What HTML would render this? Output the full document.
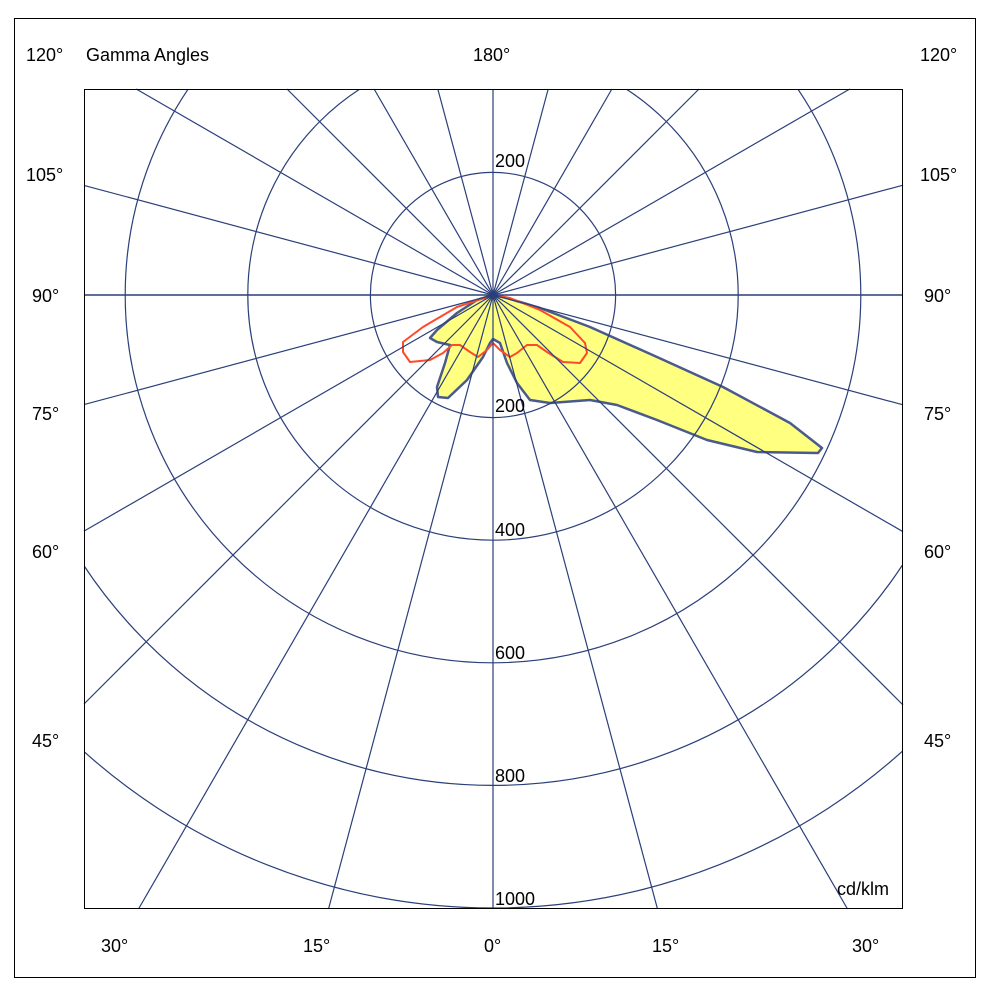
<!DOCTYPE html>
<html><head><style>html,body{margin:0;padding:0;background:#fff;width:994px;height:1000px;overflow:hidden}svg{display:block}svg text{font-family:"Liberation Sans",sans-serif;font-size:18px;fill:#000}</style></head>
<body>
<svg width="994" height="1000" xmlns="http://www.w3.org/2000/svg">
<rect x="0" y="0" width="994" height="1000" fill="#fff"/>
<rect x="14.5" y="18.5" width="961" height="959" fill="none" stroke="#000" stroke-width="1"/>
<defs><clipPath id="c"><rect x="84" y="89" width="819" height="820"/></clipPath></defs>
<polygon fill="#ffff80" stroke="#4a5a8a" stroke-width="2.5" stroke-linejoin="round" points="493,295 507,298 540,308 590,327 657,357 723,387 790,423 822,448 818,453 757,452 707,440 657,420 617,405 590,400 550,403 530,400 517,383 507,363 500,343 493,339 490,343 483,357 467,380 448,398 438,397 437,387 445,363 450,345 437,342 430,338 437,330 457,313 477,300"/>
<polyline fill="none" stroke="#ff4a2a" stroke-width="2" stroke-linejoin="round" points="487,297 457,307 423,327 403,342 403,352 410,362 430,360 443,353 452,345 460,345 470,352 478,357 487,350 493,343 500,350 510,357 517,353 527,345 537,345 547,352 563,362 580,363 587,353 585,343 570,327 540,310 510,298 493,295"/>
<g clip-path="url(#c)" stroke="#2b3f7a" stroke-width="1.2" fill="none">
<circle cx="493" cy="295" r="122.6"/>
<circle cx="493" cy="295" r="245.2"/>
<circle cx="493" cy="295" r="367.8"/>
<circle cx="493" cy="295" r="490.4"/>
<circle cx="493" cy="295" r="613"/>
</g>
<g stroke="#2b3f7a" stroke-width="1.2" fill="none">
<line x1="493" y1="89" x2="493" y2="909"/>
<line x1="493" y1="295" x2="657.5" y2="909"/><line x1="493" y1="295" x2="328.5" y2="909"/>
<line x1="493" y1="295" x2="548.2" y2="89"/><line x1="493" y1="295" x2="437.8" y2="89"/>
<line x1="493" y1="295" x2="847.5" y2="909"/><line x1="493" y1="295" x2="138.5" y2="909"/>
<line x1="493" y1="295" x2="611.9" y2="89"/><line x1="493" y1="295" x2="374.1" y2="89"/>
<line x1="493" y1="295" x2="903" y2="705"/><line x1="493" y1="295" x2="84" y2="704"/>
<line x1="493" y1="295" x2="699" y2="89"/><line x1="493" y1="295" x2="287" y2="89"/>
<line x1="493" y1="295" x2="903" y2="531.7"/><line x1="493" y1="295" x2="84" y2="531.1"/>
<line x1="493" y1="295" x2="849.8" y2="89"/><line x1="493" y1="295" x2="136.2" y2="89"/>
<line x1="493" y1="295" x2="903" y2="404.8"/><line x1="493" y1="295" x2="84" y2="404.6"/>
<line x1="493" y1="295" x2="903" y2="185.2"/><line x1="493" y1="295" x2="84" y2="185.4"/>
<line x1="84" y1="295" x2="903" y2="295" stroke-width="1.5"/>
</g>
<rect x="84.5" y="89.5" width="818" height="819" fill="none" stroke="#000" stroke-width="1"/>
<text x="26" y="61">120°</text><text x="86" y="61">Gamma Angles</text><text x="473" y="61">180°</text><text x="920" y="61">120°</text>
<text x="26" y="181">105°</text><text x="920" y="181">105°</text>
<text x="32" y="302">90°</text><text x="924" y="302">90°</text>
<text x="32" y="420">75°</text><text x="924" y="420">75°</text>
<text x="32" y="558">60°</text><text x="924" y="558">60°</text>
<text x="32" y="747">45°</text><text x="924" y="747">45°</text>
<text x="101" y="952">30°</text><text x="303" y="952">15°</text><text x="484" y="952">0°</text><text x="652" y="952">15°</text><text x="852" y="952">30°</text>
<text x="495" y="167">200</text><text x="495" y="412">200</text><text x="495" y="536">400</text><text x="495" y="659">600</text><text x="495" y="782">800</text><text x="495" y="905">1000</text>
<text x="837" y="895">cd/klm</text>
</svg>
</body></html>
